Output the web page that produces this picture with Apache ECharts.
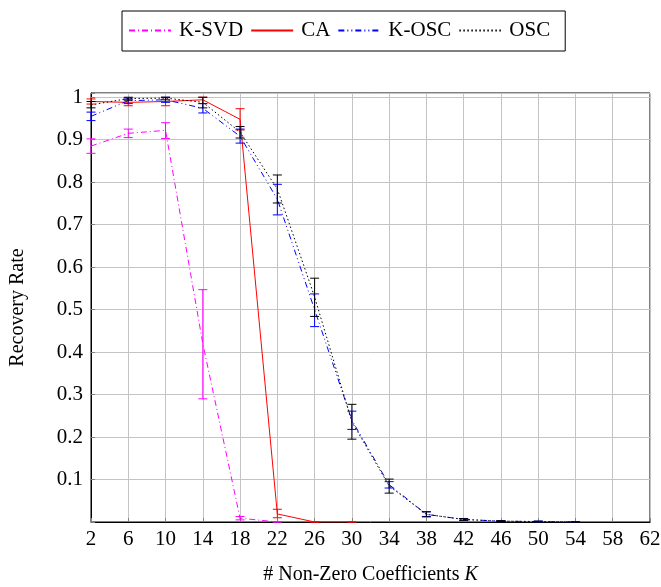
<!DOCTYPE html>
<html>
<head>
<meta charset="utf-8">
<script src="https://cdn.jsdelivr.net/npm/echarts@6/dist/echarts.min.js"></script>
<style>html,body{margin:0;padding:0;background:#fff}#c{width:661px;height:587px}</style>
</head>
<body>
<div id="c"></div>
<script>
var categories = ['2','6','10','14','18','22','26','30','34','38','42','46','50','54','58','62'];

var ksvdMean = [0.885, 0.915, 0.922, 0.42, 0.009, 0];
var ksvdLow  = [0.868, 0.905, 0.903, 0.29, 0.005, 0];
var ksvdHigh = [0.902, 0.925, 0.940, 0.547, 0.013, 0];

var caMean = [0.990, 0.988, 0.990, 0.994, 0.948, 0.019, 0, 0];
var caLow  = [0.984, 0.980, 0.980, 0.985, 0.923, 0.010, 0, 0];
var caHigh = [0.996, 0.995, 0.999, 1.000, 0.973, 0.030, 0, 0];

var koscMean = [0.955, 0.992, 0.994, 0.974, 0.908, 0.760, 0.500, 0.240, 0.088, 0.018, 0.006, 0.002, 0.001, 0];
var koscLow  = [0.945, 0.985, 0.988, 0.963, 0.892, 0.723, 0.460, 0.218, 0.080, 0.013, 0.004, 0.001, 0.000, 0];
var koscHigh = [0.965, 0.998, 1.000, 0.985, 0.925, 0.795, 0.537, 0.261, 0.095, 0.024, 0.008, 0.003, 0.002, 0];

var oscMean = [0.982, 0.997, 0.998, 0.988, 0.918, 0.784, 0.530, 0.236, 0.085, 0.018, 0.006, 0.002, 0.001, 0];
var oscLow  = [0.975, 0.993, 0.994, 0.975, 0.904, 0.751, 0.484, 0.195, 0.068, 0.012, 0.004, 0.001, 0.000, 0];
var oscHigh = [0.990, 1.000, 1.000, 1.000, 0.931, 0.817, 0.574, 0.277, 0.101, 0.024, 0.008, 0.003, 0.002, 0];

var FONT = 'Liberation Serif';

function lineSeries(name, color, dash, data, z) {
  return {
    type: 'line', name: name, data: data, symbol: 'none', showSymbol: false,
    z: z, silent: true,
    lineStyle: { color: color, width: 1, type: dash },
    itemStyle: { color: color }
  };
}
function errSeries(name, color, lows, highs, z) {
  return {
    type: 'custom', name: name + ' err', z: z, silent: true,
    renderItem: function (params, api) {
      var x = api.value(0);
      var lo = api.coord([x, api.value(1)]);
      var hi = api.coord([x, api.value(2)]);
      var w = 4.5;
      var st = { stroke: color, lineWidth: 1, fill: null };
      return { type: 'group', children: [
        { type: 'line', shape: { x1: lo[0], y1: lo[1], x2: hi[0], y2: hi[1] }, style: st },
        { type: 'line', shape: { x1: lo[0] - w, y1: lo[1], x2: lo[0] + w, y2: lo[1] }, style: st },
        { type: 'line', shape: { x1: hi[0] - w, y1: hi[1], x2: hi[0] + w, y2: hi[1] }, style: st }
      ]};
    },
    encode: { x: 0, y: [1, 2] },
    data: lows.map(function (l, i) { return [i, l, highs[i]]; })
  };
}

var chart = echarts.init(document.getElementById('c'), null, { renderer: 'canvas' });
chart.setOption({
  animation: false,
  backgroundColor: '#fff',
  textStyle: { fontFamily: FONT },
  legend: {
    data: ['K-SVD', 'CA', 'K-OSC', 'OSC'],
    left: 122, top: 11,
    borderColor: '#000', borderWidth: 1,
    padding: [9, 15, 10, 6],
    itemWidth: 42, itemHeight: 14, itemGap: 7,
    itemStyle: { opacity: 0 },
    textStyle: { fontFamily: FONT, fontSize: 21, color: '#000', padding: [0, 0, 0, 3] }
  },
  grid: { left: 91, right: 11, top: 93, bottom: 65, containLabel: false, outerBoundsMode: 'none',
    show: true, borderColor: '#000', borderWidth: 1, backgroundColor: 'transparent' },
  xAxis: {
    type: 'category', data: categories, boundaryGap: false,
    name: '# Non-Zero Coefficients {i|K}', nameLocation: 'middle', nameGap: 43,
    nameTextStyle: { fontFamily: FONT, fontSize: 20, color: '#000', rich: { i: { fontFamily: FONT, fontStyle: 'italic', fontSize: 20, color: '#000' } } },
    axisLine: { lineStyle: { color: '#000', width: 1 } },
    axisTick: { inside: true, length: 4, lineStyle: { color: '#808080' } },
    axisLabel: { fontFamily: FONT, fontSize: 21, color: '#000', margin: 7 },
    splitLine: { show: true, lineStyle: { color: '#c4c4c4', width: 1 } }
  },
  yAxis: {
    type: 'value', min: 0, max: 1.01, interval: 0.1,
    name: 'Recovery Rate', nameLocation: 'middle', nameGap: 63,
    nameTextStyle: { fontFamily: FONT, fontSize: 20, color: '#000' },
    axisLine: { show: true, lineStyle: { color: '#000', width: 1 } },
    axisTick: { show: true, inside: true, length: 4, lineStyle: { color: '#808080' } },
    axisLabel: { fontFamily: FONT, fontSize: 21, color: '#000', margin: 8,
      formatter: function (v) { if (v < 0.05 || v > 1.005) return ''; return String(Math.round(v * 10) / 10); } },
    splitLine: { show: true, lineStyle: { color: '#c4c4c4', width: 1 } }
  },
  series: [
    lineSeries('K-SVD', '#ff00ff', [6, 3, 1, 3], ksvdMean, 2),
    errSeries('K-SVD', '#ff00ff', ksvdLow, ksvdHigh, 2),
    lineSeries('CA', '#ff0000', 'solid', caMean, 3),
    errSeries('CA', '#ff0000', caLow, caHigh, 3),
    lineSeries('K-OSC', '#0000ff', [6, 3, 1, 3, 1, 3], koscMean, 4),
    errSeries('K-OSC', '#0000ff', koscLow, koscHigh, 4),
    lineSeries('OSC', '#000000', [1.5, 2.5], oscMean, 5),
    errSeries('OSC', '#000000', oscLow, oscHigh, 5)
  ]
});
</script>
</body>
</html>
